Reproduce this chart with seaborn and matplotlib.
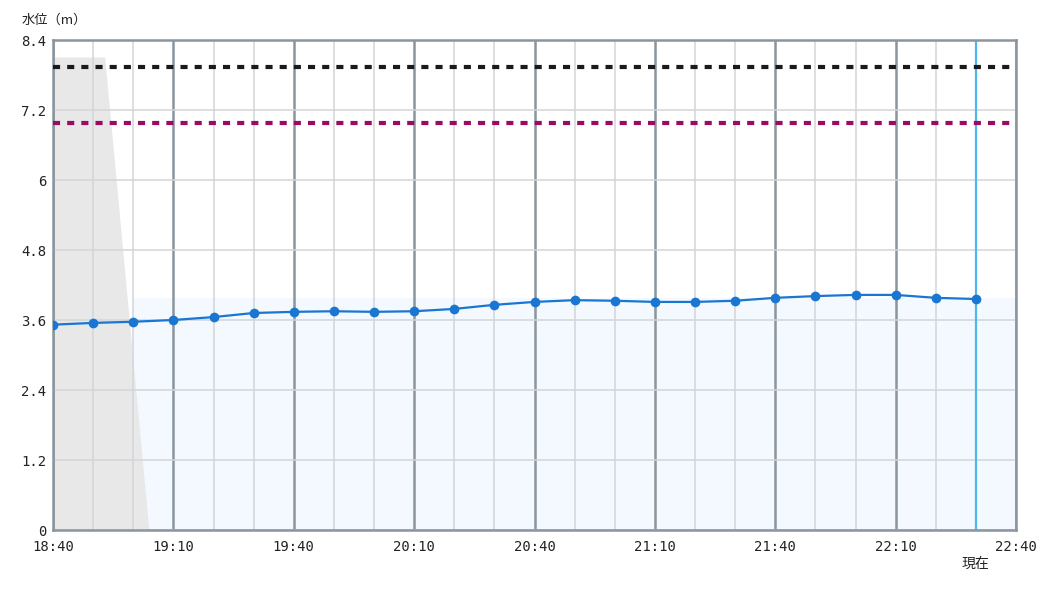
import numpy as np
import pandas as pd
import matplotlib.pyplot as plt
import seaborn as sns

# Water level readings, every 10 minutes
times = ["18:40", "18:50", "19:00", "19:10", "19:20", "19:30", "19:40", "19:50",
         "20:00", "20:10", "20:20", "20:30", "20:40", "20:50", "21:00", "21:10",
         "21:20", "21:30", "21:40", "21:50", "22:00", "22:10", "22:20", "22:30"]
levels = [3.52, 3.55, 3.57, 3.60, 3.65, 3.72, 3.74, 3.75,
          3.74, 3.75, 3.79, 3.86, 3.91, 3.94, 3.93, 3.91,
          3.91, 3.93, 3.98, 4.01, 4.03, 4.03, 3.98, 3.96]

# reference levels
level_black = 7.93
level_maroon = 6.97

# shaded regions
gray_x = ["18:40", "18:53", "19:04", "18:40"]
gray_y = [8.1, 8.1, 0, 0]
band_start, band_end, band_top = "19:00", "22:40", 3.97

x_ticks = ["18:40", "19:10", "19:40", "20:10", "20:40", "21:10", "21:40", "22:10", "22:40"]
y_ticks = [0, 1.2, 2.4, 3.6, 4.8, 6, 7.2, 8.4]
now_time = "22:30"


def to_min(t):
    h, m = t.split(":")
    return int(h) * 60 + int(m)


df = pd.DataFrame({"t": [to_min(t) for t in times], "level": levels})

sns.set_style("white")
plt.rcParams['font.family'] = ['DejaVu Sans Mono', 'Noto Sans CJK JP']

fig = plt.figure(figsize=(10.5, 6), dpi=100)
ax = fig.add_axes([53 / 1050, 70 / 600, 963 / 1050, 490 / 600])

x0, x1 = to_min("18:40"), to_min("22:40")
ax.set_xlim(x0, x1)
ax.set_ylim(0, 8.4)

# background shading
ax.fill([to_min(t) for t in gray_x], gray_y, color="#e8e8e8", lw=0, zorder=1)
ax.fill_between([to_min(band_start), to_min(band_end)], 0, band_top,
                color="#f3f9fe", lw=0, zorder=0.5)

# grid
for t in range(x0, x1 + 1, 10):
    major = (t - x0) % 30 == 0
    ax.axvline(t, color="#8a959e" if major else "#d2d5d9",
               lw=1.8 if major else 1.1, zorder=2)
for y in y_ticks:
    ax.axhline(y, color="#d2d5d9", lw=1.1, zorder=2)
ax.axvline(to_min(now_time), color="#4fb6ee", lw=1.6, zorder=2.5)

ax.axhline(level_black, color="#1a1a1a", lw=3, ls=(0, (1.7, 1.7)), zorder=3)
ax.axhline(level_maroon, color="#9c0a64", lw=3, ls=(0, (1.7, 1.7)), zorder=3)

sns.lineplot(data=df, x="t", y="level", ax=ax, color="#1976d2", lw=1.6,
             marker="o", markersize=7, markeredgewidth=0, zorder=5)

for s in ax.spines.values():
    s.set_color("#8a959e")
    s.set_linewidth(1.8)

ax.set_xticks([to_min(t) for t in x_ticks])
ax.set_xticklabels(x_ticks)
ax.set_yticks(y_ticks)
ax.set_yticklabels(["0", "1.2", "2.4", "3.6", "4.8", "6", "7.2", "8.4"])
ax.tick_params(length=0, labelsize=10, colors="#222222", pad=5)
ax.tick_params(axis="x", pad=7)
ax.set_xlabel("")
ax.set_ylabel("")

fig.text(22 / 1050, 1 - 20 / 600, "水位（m）", fontsize=9.5, va="center",
         family=['Noto Sans CJK JP'], color="#222222")
ax.text(to_min(now_time), -0.055, "現在", transform=ax.get_xaxis_transform(),
        ha="center", va="top", fontsize=10, family=['Noto Sans CJK JP'], color="#222222")

fig.savefig("out.png", dpi=100)
